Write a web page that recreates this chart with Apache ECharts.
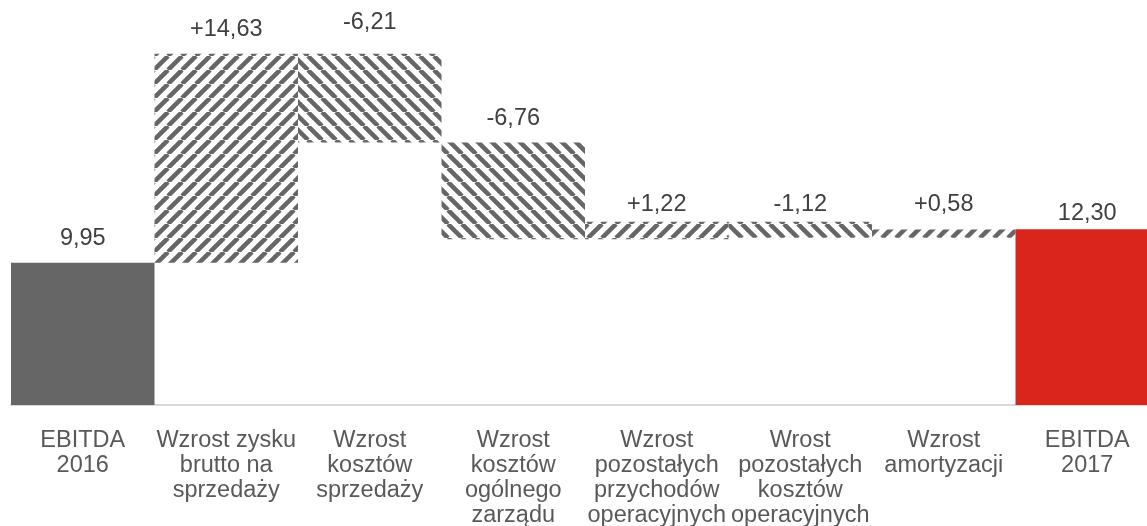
<!DOCTYPE html>
<html>
<head>
<meta charset="utf-8">
<script src="https://cdn.jsdelivr.net/npm/echarts@6/dist/echarts.min.js"></script>
<style>
html,body{margin:0;padding:0;background:#fff;}
#chart{width:1147px;height:526px;}
</style>
</head>
<body>
<div id="chart"></div>
<script>
const categories = [
  'EBITDA\n2016',
  'Wzrost zysku\nbrutto na\nsprzedaży',
  'Wzrost\nkosztów\nsprzedaży',
  'Wzrost\nkosztów\nogólnego\nzarządu',
  'Wzrost\npozostałych\nprzychodów\noperacyjnych',
  'Wrost\npozostałych\nkosztów\noperacyjnych',
  'Wzrost\namortyzacji',
  'EBITDA\n2017'
];
const values = [9.95, 14.63, -6.21, -6.76, 1.22, -1.12, 0.58, 12.30];
const kinds = ['total', 'delta', 'delta', 'delta', 'delta', 'delta', 'delta', 'total'];

// label vertical nudges (style only)
const labelShift = [0, 0, -7, 0, 7, 7, -1, 8];

function hatch(dir) {
  const s = 14;
  const c = document.createElement('canvas');
  c.width = s; c.height = s;
  const g = c.getContext('2d');
  g.fillStyle = '#ffffff';
  g.fillRect(0, 0, s, s);
  g.strokeStyle = '#666666';
  g.lineWidth = 4.5;
  for (let k = -1; k <= 1; k++) {
    g.beginPath();
    if (dir === 'up') {
      g.moveTo(k * s, s); g.lineTo(k * s + s, 0);
    } else {
      g.moveTo(k * s, 0); g.lineTo(k * s + s, s);
    }
    g.stroke();
  }
  return c;
}
const upPattern = { image: hatch('up'), repeat: 'repeat' };
const downPattern = { image: hatch('down'), repeat: 'repeat' };

let running = 0;
const baseData = [];
const barData = [];
values.forEach((v, i) => {
  if (kinds[i] === 'total') {
    baseData.push(0);
    barData.push({ value: v, itemStyle: { color: i === 0 ? '#666666' : '#da251d' },
      label: { offset: [0, labelShift[i]] } });
    running = v;
  } else {
    const start = running, end = running + v;
    baseData.push(Math.min(start, end));
    barData.push({ value: Math.abs(v), itemStyle: { color: v >= 0 ? upPattern : downPattern },
      label: { offset: [0, labelShift[i]] } });
    running = end;
  }
});

function fmt(i) {
  const v = values[i];
  const s = Math.abs(v).toFixed(2).replace('.', ',');
  if (kinds[i] === 'total') return s;
  return (v >= 0 ? '+' : '-') + s;
}

const chart = echarts.init(document.getElementById('chart'));
chart.setOption({
  animation: false,
  backgroundColor: '#ffffff',
  grid: { left: 11, width: 1148, top: 5, bottom: 121, containLabel: false, outerBoundsMode: 'none' },
  xAxis: {
    type: 'category',
    data: categories,
    axisLine: { show: true, lineStyle: { color: '#d9d9d9', width: 2 } },
    axisTick: { show: false },
    axisLabel: {
      interval: 0,
      margin: 23,
      color: '#595959',
      fontFamily: 'Liberation Sans, Arial, sans-serif',
      fontSize: 23.5,
      lineHeight: 25,
      align: 'center',
      verticalAlign: 'top'
    }
  },
  yAxis: {
    type: 'value',
    min: 0,
    max: 28,
    show: false,
    splitLine: { show: false }
  },
  series: [
    {
      type: 'bar',
      stack: 'w',
      silent: true,
      itemStyle: { color: 'transparent' },
      data: baseData,
      barCategoryGap: '0%'
    },
    {
      type: 'bar',
      stack: 'w',
      data: barData,
      barCategoryGap: '0%',
      label: {
        show: true,
        position: 'top',
        distance: 12,
        color: '#404040',
        fontFamily: 'Liberation Sans, Arial, sans-serif',
        fontSize: 23.5,
        formatter: p => fmt(p.dataIndex)
      }
    }
  ]
});
</script>
</body>
</html>
